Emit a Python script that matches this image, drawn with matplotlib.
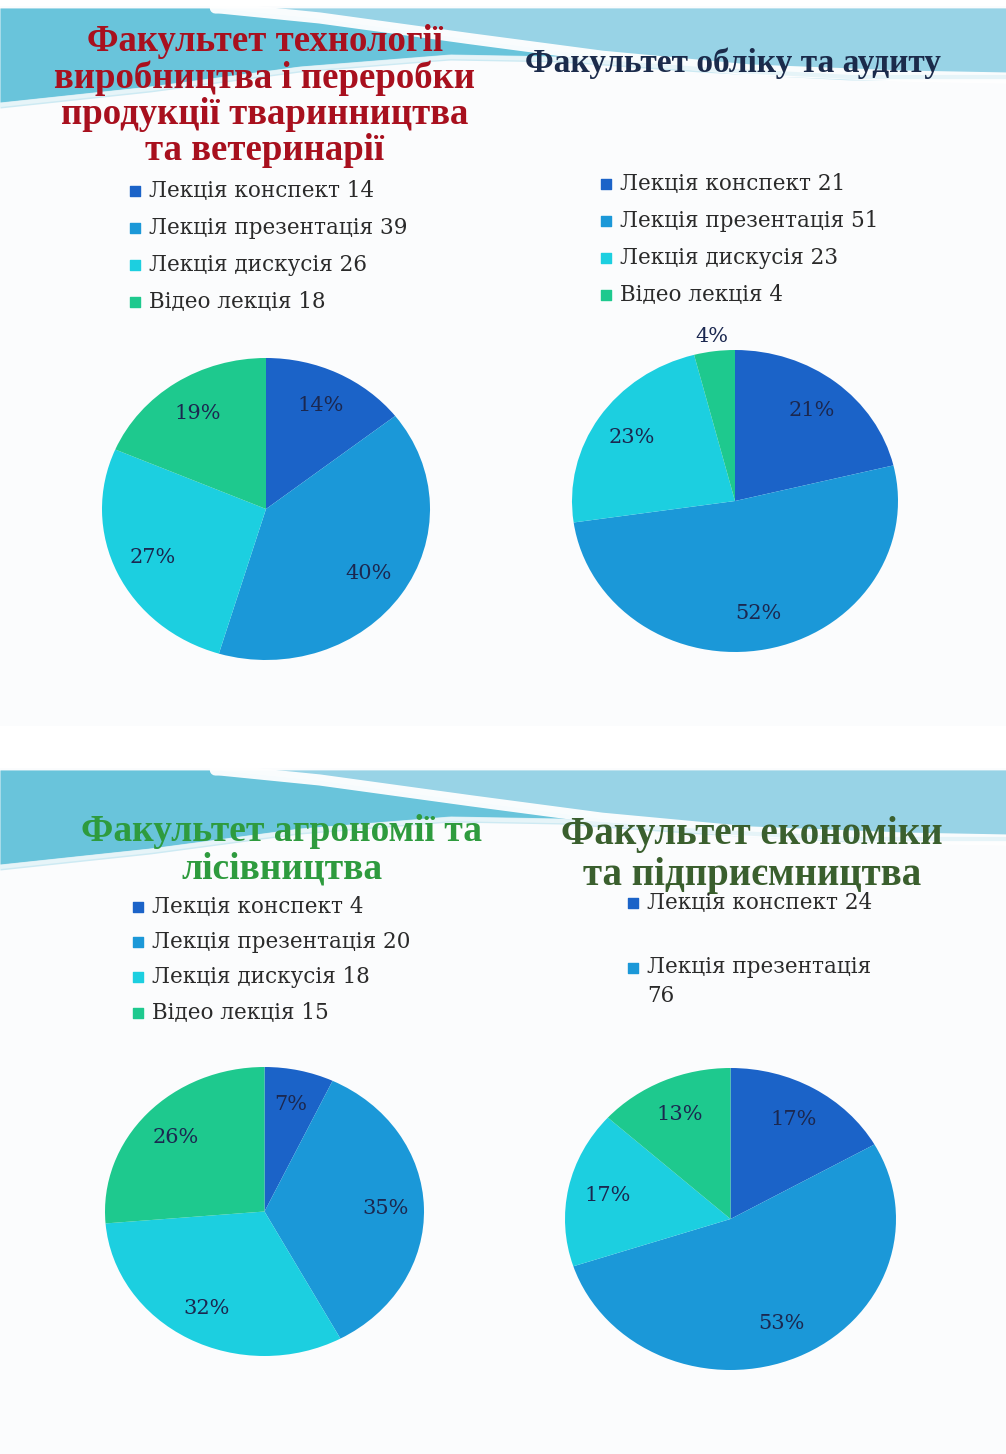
import numpy as np
import matplotlib
matplotlib.use("Agg")
import matplotlib.pyplot as plt

# data
categories = ["Лекція конспект", "Лекція презентація", "Лекція дискусія", "Відео лекція"]
technology = [14, 39, 26, 18]
accounting = [21, 51, 23, 4]
agronomy = [4, 20, 18, 15]
economics = [24, 76, 24, 19]   # last two estimated from the slice percentages

titles = [
    "Факультет технології\nвиробництва і переробки\nпродукції тваринництва\nта ветеринарії",
    "Факультет обліку та аудиту",
    "Факультет агрономії та\nлісівництва",
    "Факультет економіки\nта підприємництва",
]

colors = ["#1b63c8", "#1b98d8", "#1ccfe0", "#1ec98e"]

W, H = 1006, 1454
fig = plt.figure(figsize=(W / 100, H / 100), dpi=100)
fig.patch.set_facecolor("white")

# background axes in pixel coordinates (origin top-left)
bg = fig.add_axes([0, 0, 1, 1], zorder=0)
bg.set_xlim(0, W)
bg.set_ylim(H, 0)
bg.axis("off")


def slide(y0, y1):
    bg.fill_between([0, W], y0 + 6, y1, color="#fbfcfd", lw=0)
    x = np.linspace(0, W, 300)
    top = np.full_like(x, y0 + 8)
    low = np.interp(x, [0, 150, 300, 450, 560, 700, 850, W],
                    [108, 92, 72, 60, 62, 72, 80, 80]) + y0
    white = np.interp(x, [0, 220, 320, 450, 600, 750, 900, W],
                      [8, 8, 18, 36, 56, 70, 76, 78]) + y0
    # soft pale band under everything
    bg.fill_between(x, top, low, color="#cdeaf3", lw=0)
    # teal swoosh below the white curve (left side)
    bg.fill_between(x, white, low - 6, where=low - 6 > white, color="#5ec0d9",
                    lw=0, alpha=0.9, interpolate=True)
    # lighter blue above the white curve (right side)
    bg.fill_between(x, top, white, where=white > top, color="#98d3e6",
                    lw=0, interpolate=True)
    m = x >= 215
    bg.plot(x[m], white[m], color="white", lw=8, alpha=0.95, solid_capstyle="round")
    bg.plot(x, low - 3, color="#e6f4f8", lw=3)


slide(0, 726)
slide(762, H)

title_specs = [
    (265, 96, "#a8101e", 26.5, 1.05),
    (733, 63, "#1b2b4b", 24, 1.0),
    (282, 850, "#2e9b3e", 27, 1.1),
    (752, 855, "#3a5f2e", 28, 1.15),
]
for t, (cx, cy, c, fs, ls) in zip(titles, title_specs):
    bg.text(cx, cy, t, ha="center", va="center", color=c, fontsize=fs,
            fontweight="bold", family="Liberation Serif", linespacing=ls)


def legend(x, ys, values):
    for i, y in enumerate(ys):
        bg.scatter([x], [y], marker="s", s=55, color=colors[i], zorder=3)
        bg.text(x + 14, y, f"{categories[i]} {values[i]}", ha="left", va="center",
                fontsize=15.5, family="DejaVu Serif", color="#2a2a2a")


legend(135, [191, 228, 265, 302], technology)
legend(606, [184, 221, 258, 295], accounting)
legend(138, [907, 942, 977, 1013], agronomy)


def legend2(x, ys, values):
    bg.scatter([x], [ys[0]], marker="s", s=55, color=colors[0])
    bg.text(x + 14, ys[0], f"{categories[0]} {values[0]}", ha="left", va="center",
            fontsize=15.5, family="DejaVu Serif", color="#2a2a2a")
    bg.scatter([x], [ys[1]], marker="s", s=55, color=colors[1])
    bg.text(x + 14, ys[1] - 12, f"{categories[1]}\n{values[1]}", ha="left", va="top",
            fontsize=15.5, family="DejaVu Serif", color="#2a2a2a", linespacing=1.4)


legend2(633, [903, 968], economics)


def pie(box, values, pctd):
    x0, y0, x1, y1 = box
    ax = fig.add_axes([x0 / W, 1 - y1 / H, (x1 - x0) / W, (y1 - y0) / H], zorder=2)
    wedges, texts, autotexts = ax.pie(
        values, colors=colors, startangle=90, counterclock=False,
        autopct=lambda p: f"{p:.0f}%", pctdistance=pctd,
        wedgeprops=dict(linewidth=0),
        textprops=dict(fontsize=15, family="DejaVu Serif", color="#1b2850"))
    ax.set_aspect("auto")
    ax.set_xlim(-1, 1)
    ax.set_ylim(-1, 1)
    total = sum(values)
    for w, t, v in zip(wedges, autotexts, values):
        if v / total < 0.06:
            a = np.deg2rad((w.theta1 + w.theta2) / 2)
            t.set_position((1.1 * np.cos(a), 1.1 * np.sin(a)))
    return ax


pie((102, 358, 430, 660), technology, 0.76)
pie((572, 350, 898, 652), accounting, 0.76)
pie((105, 1067, 424, 1356), agronomy, 0.76)
pie((565, 1068, 896, 1370), economics, 0.76)

fig.savefig("out.png", dpi=100)
